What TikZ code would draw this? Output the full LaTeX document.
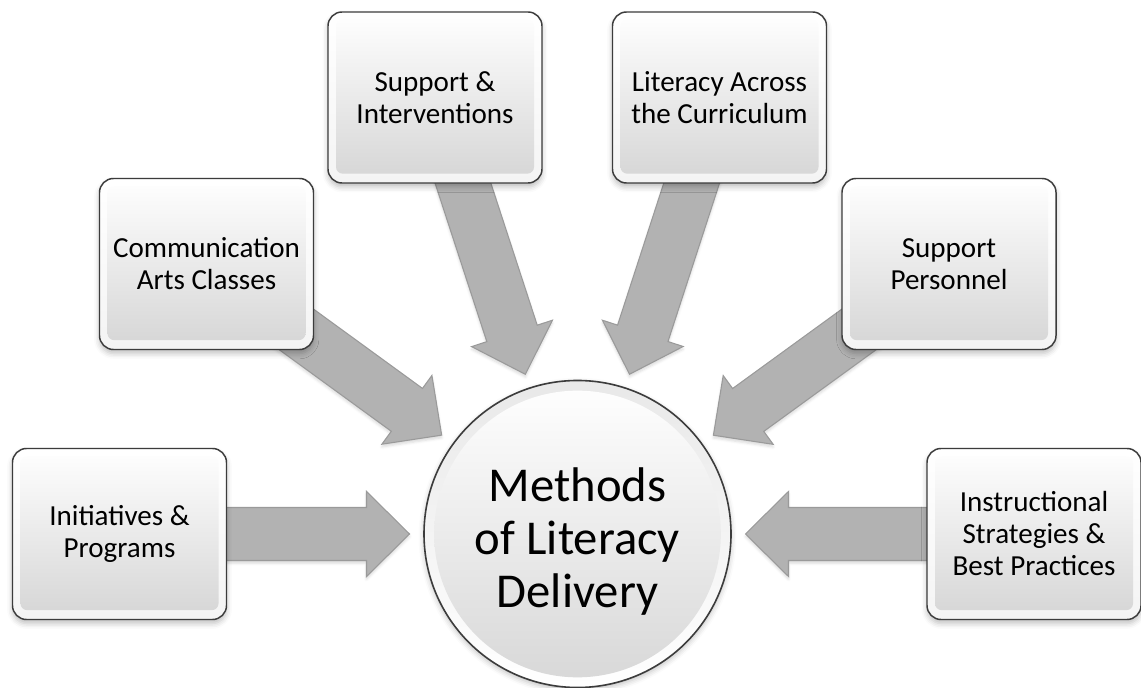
\documentclass[tikz,border=0pt]{standalone}
\usepackage{fontspec}
\setmainfont{Carlito}
\usetikzlibrary{calc,shadows.blur}
\pgfdeclarelayer{bg}
\pgfsetlayers{bg,main}
\definecolor{edgegray}{HTML}{3C3C3C}
\definecolor{facebot}{HTML}{D5D5D5}
\definecolor{framebot}{HTML}{F4F4F4}
\definecolor{arrowfill}{HTML}{B2B2B2}
\definecolor{arrowedge}{HTML}{9A9A9A}
\tikzset{
  boxnode/.style={draw=edgegray, line width=1.1pt, rounded corners=10.5pt,
    minimum width=160.5pt, minimum height=128.25pt, align=center,
    font=\fontsize{21.8}{24}\selectfont,
    top color=white, bottom color=framebot,
    blur shadow={shadow xshift=0pt, shadow yshift=-3pt, shadow blur radius=4pt, shadow opacity=25},
    path picture={\shade[top color=white, bottom color=facebot, rounded corners=5pt]
      ($(path picture bounding box.south west)+(6pt,7pt)$) rectangle
      ($(path picture bounding box.north east)+(-6pt,-6pt)$);}},
  hubnode/.style={circle, draw=edgegray, line width=1.2pt, inner sep=0pt,
    minimum size=230.25pt,
    font=\fontsize{36.5}{39.5}\selectfont,
    top color=framebot!90!gray, bottom color=white,
    blur shadow={shadow xshift=0pt, shadow yshift=-2pt, shadow blur radius=4pt, shadow opacity=25},
    path picture={\shade[top color=white, bottom color=facebot!95!white]
      (path picture bounding box.center) circle (107.5pt);}},
  arrowsty/.style={fill=arrowfill, draw=arrowedge, line width=0.8pt, line join=miter,
    blur shadow={shadow xshift=0pt, shadow yshift=-2pt, shadow blur radius=2pt, shadow opacity=15}}
}
\newcommand\convarrow[1]{%
  \begin{pgfonlayer}{bg}
  \draw[arrowsty] let \p1=($(#1)-(ctr)$), \n1={atan2(\y1,\x1)} in
    ($(ctr)+(\n1:168)$) -- ($(ctr)+(\n1:211)+(\n1-90:42.5)$)
    -- ($(ctr)+(\n1:211)+(\n1-90:26.5)$) -- ($(#1)+(\n1-90:26.5)$)
    -- ($(#1)+(\n1+90:26.5)$) -- ($(ctr)+(\n1:211)+(\n1+90:26.5)$)
    -- ($(ctr)+(\n1:211)+(\n1+90:42.5)$) -- cycle;
  \end{pgfonlayer}}
\begin{document}
\begin{tikzpicture}[x=0.75pt, y=0.75pt]
\useasboundingbox (0,0) rectangle (1141,688);
\node[hubnode] (ctr) at (577.5,154) {\raisebox{-7.5pt}[\height][\depth]{\begin{tabular}{@{}c@{}}Methods\\of Literacy\\Delivery\end{tabular}}};
\node[boxnode] (b1) at (119.5,154) {Initiatives \&\\Programs};
\node[boxnode] (b2) at (206.5,424) {Communication\\Arts Classes};
\node[boxnode] (b3) at (435,590.5) {Support \&\\Interventions};
\node[boxnode] (b4) at (719.5,590.5) {Literacy Across\\the Curriculum};
\node[boxnode] (b5) at (949,424) {Support\\Personnel};
\node[boxnode] (b6) at (1034,154) {Instructional\\Strategies \&\\Best Practices};
\convarrow{b1}
\convarrow{b2}
\convarrow{b3}
\convarrow{b4}
\convarrow{b5}
\convarrow{b6}
\end{tikzpicture}
\end{document}
